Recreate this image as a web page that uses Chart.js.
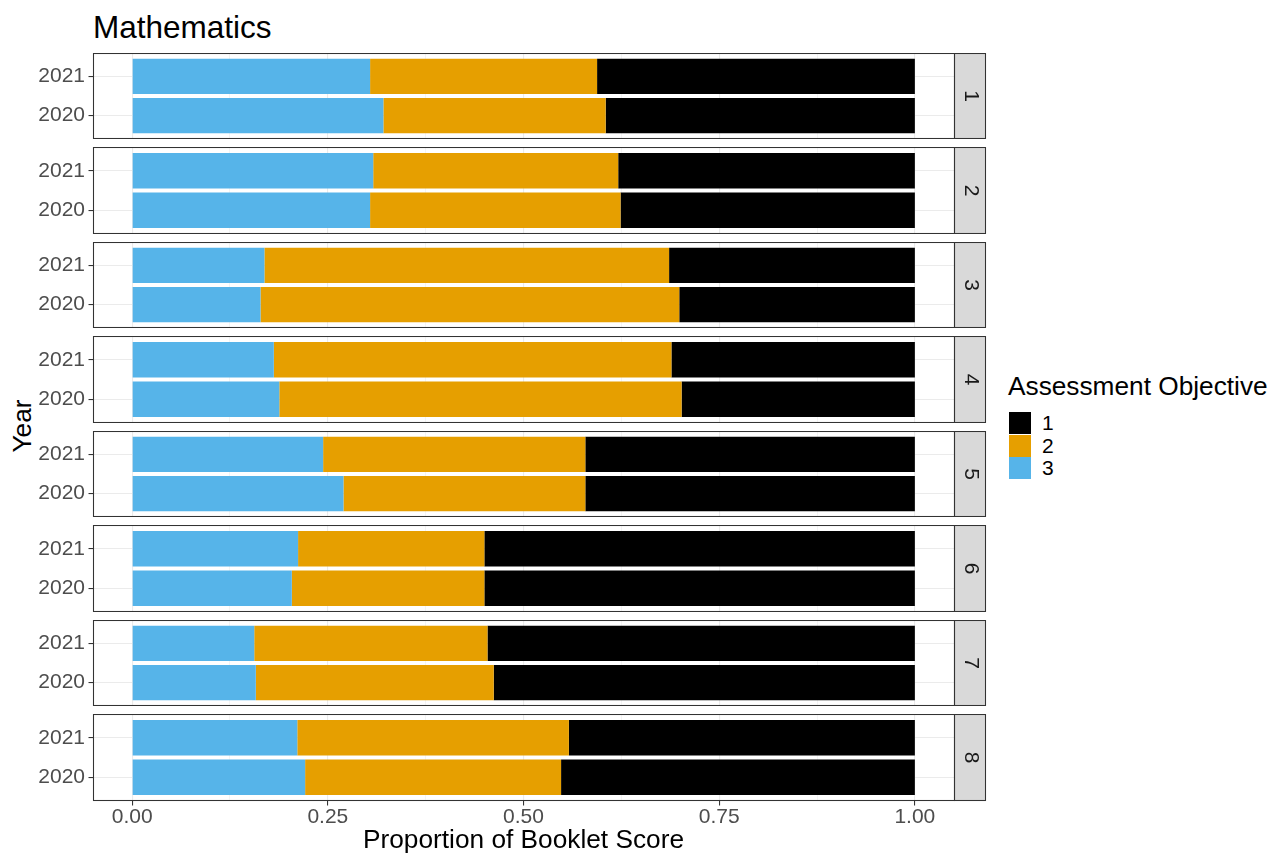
<!DOCTYPE html>
<html>
<head>
<meta charset="utf-8">
<script src="https://cdn.jsdelivr.net/npm/chart.js@4.4.1/dist/chart.umd.min.js"></script>
<style>
  html, body { margin: 0; padding: 0; background: #ffffff; }
  #page { position: relative; width: 1288px; height: 856px; overflow: hidden;
          font-family: "Liberation Sans", Arial, Helvetica, sans-serif; color: #000; }
  #page canvas { position: absolute; left: 0; }
  .plot-title { position: absolute; left: 93px; top: 12px; font-size: 31.5px; line-height: 31.5px; white-space: nowrap; }
  .y-title { position: absolute; left: 22px; top: 426px; width: 120px; height: 32px; margin-left: -60px; margin-top: -16px;
             line-height: 32px; text-align: center; font-size: 26.25px; transform: rotate(-90deg); white-space: nowrap; }
  .legend-title { position: absolute; left: 1008px; top: 373px; font-size: 26.25px; line-height: 26.25px; white-space: nowrap; }
  .legend-key { position: absolute; left: 1009px; width: 22px; height: 22px; }
  .legend-label { position: absolute; left: 1042px; height: 22px; line-height: 22px; font-size: 21px; color: #000; }
</style>
</head>
<body>
<div id="page">
  <div class="plot-title">Mathematics</div>
  <div class="y-title">Year</div>
  <div class="legend-title">Assessment Objective</div>
</div>
<script>
// Booklet facets, years within each facet (top to bottom) and objectives
const booklets = ['1', '2', '3', '4', '5', '6', '7', '8'];
const years = ['2021', '2020'];
const objectives = ['1', '2', '3'];
const objectiveColours = ['#000000', '#E69F00', '#56B4E9'];

// Proportion of booklet score per objective, one value per booklet
const ao1_2021 = [0.406, 0.379, 0.314, 0.311, 0.421, 0.550, 0.546, 0.442];
const ao1_2020 = [0.395, 0.376, 0.301, 0.298, 0.421, 0.550, 0.538, 0.452];
const ao2_2021 = [0.290, 0.313, 0.517, 0.508, 0.335, 0.238, 0.298, 0.347];
const ao2_2020 = [0.284, 0.320, 0.535, 0.514, 0.309, 0.246, 0.304, 0.327];
const ao3_2021 = [0.304, 0.308, 0.169, 0.181, 0.244, 0.212, 0.156, 0.211];
const ao3_2020 = [0.321, 0.304, 0.164, 0.188, 0.270, 0.204, 0.158, 0.221];

// Axis ticks
const xMajorTicks = [0, 0.25, 0.5, 0.75, 1];
const xMajorLabels = ['0.00', '0.25', '0.50', '0.75', '1.00'];
const xMinorTicks = [0.125, 0.375, 0.625, 0.875];

const FONT = '"Liberation Sans", Arial, Helvetica, sans-serif';
const page = document.getElementById('page');

// legend
objectives.forEach((o, i) => {
  const top = 412 + i * 22.6;
  const key = document.createElement('div');
  key.className = 'legend-key';
  key.style.top = top + 'px';
  key.style.background = objectiveColours[i];
  page.appendChild(key);
  const lab = document.createElement('div');
  lab.className = 'legend-label';
  lab.style.top = top + 'px';
  lab.textContent = o;
  page.appendChild(lab);
});

// year slots on the discrete axis (2021 above 2020)
const yearSlot = { '2021': 2, '2020': 1 };
const slotYear = { 2: '2021', 1: '2020' };

const allXTicks = xMajorTicks.concat(xMinorTicks).sort((a, b) => a - b);
const isMajor = v => xMajorTicks.some(m => Math.abs(m - v) < 1e-9);

// frame around each facet plus the grey strip with its label
const facetFrame = {
  id: 'facetFrame',
  afterDatasetsDraw(chart, args, opts) {
    const { ctx, chartArea: a } = chart;
    const h = a.bottom - a.top;
    ctx.save();
    ctx.fillStyle = '#D9D9D9';
    ctx.fillRect(a.right, a.top, 32, h);
    ctx.lineWidth = 1.07;
    ctx.strokeStyle = '#333333';
    ctx.strokeRect(a.left + 0.5, a.top + 0.5, a.right - a.left, h - 1);
    ctx.strokeRect(a.right + 0.5, a.top + 0.5, 31, h - 1);
    ctx.translate(a.right + 16.5, a.top + h / 2);
    ctx.rotate(Math.PI / 2);
    ctx.fillStyle = '#1A1A1A';
    ctx.font = '21px ' + FONT;
    ctx.textAlign = 'center';
    ctx.textBaseline = 'middle';
    ctx.fillText(opts.label, 0, 0);
    ctx.restore();
  }
};

const CANVAS_W = 1000;
const PANEL_RIGHT = 954;

booklets.forEach((b, i) => {
  const isLast = i === booklets.length - 1;
  const top = Math.round(52.7 + 94.5 * i);
  const bottom = Math.round(52.7 + 94.5 * i + 86.3);
  const axisH = isLast ? 56 : 0;
  const canvas = document.createElement('canvas');
  canvas.width = CANVAS_W;
  canvas.height = bottom - top + axisH;
  canvas.style.top = top + 'px';
  canvas.style.width = CANVAS_W + 'px';
  canvas.style.height = canvas.height + 'px';
  page.appendChild(canvas);

  const series = [
    { label: objectives[2], colour: objectiveColours[2], v2021: ao3_2021[i], v2020: ao3_2020[i] },
    { label: objectives[1], colour: objectiveColours[1], v2021: ao2_2021[i], v2020: ao2_2020[i] },
    { label: objectives[0], colour: objectiveColours[0], v2021: ao1_2021[i], v2020: ao1_2020[i] }
  ];

  new Chart(canvas, {
    type: 'bar',
    data: {
      datasets: series.map(s => ({
        label: s.label,
        backgroundColor: s.colour,
        borderWidth: 0,
        data: [
          { x: s.v2021, y: yearSlot[years[0]] },
          { x: s.v2020, y: yearSlot[years[1]] }
        ]
      }))
    },
    options: {
      indexAxis: 'y',
      responsive: false,
      animation: false,
      events: [],
      layout: { autoPadding: false, padding: { left: 0, right: CANVAS_W - PANEL_RIGHT, top: 0, bottom: 0 } },
      datasets: { bar: { categoryPercentage: 1, barPercentage: 0.9 } },
      plugins: {
        legend: { display: false },
        tooltip: { enabled: false },
        facetFrame: { label: b }
      },
      scales: {
        x: {
          type: 'linear',
          stacked: true,
          min: -0.05,
          max: 1.05,
          offset: false,
          afterBuildTicks: s => { s.ticks = allXTicks.map(v => ({ value: v })); },
          afterFit: s => { s.height = axisH; s.paddingLeft = 0; s.paddingRight = 0; },
          border: { display: false },
          grid: {
            offset: false,
            color: '#EBEBEB',
            lineWidth: ctx => (ctx.tick && isMajor(ctx.tick.value)) ? 1.1 : 0.55,
            drawTicks: isLast,
            tickLength: 4.5,
            tickWidth: 1.07,
            tickColor: ctx => (ctx.tick && isMajor(ctx.tick.value)) ? '#333333' : 'rgba(0,0,0,0)'
          },
          ticks: {
            display: isLast,
            autoSkip: false,
            maxRotation: 0,
            padding: -1,
            color: '#4D4D4D',
            font: { size: 21, family: FONT },
            callback: v => {
              const k = xMajorTicks.findIndex(m => Math.abs(m - v) < 1e-9);
              return k >= 0 ? xMajorLabels[k] : '';
            }
          },
          title: {
            display: isLast,
            text: 'Proportion of Booklet Score',
            color: '#000000',
            font: { size: 26.25, family: FONT },
            padding: { top: 0, bottom: 0 }
          }
        },
        y: {
          type: 'linear',
          stacked: true,
          min: 0.4,
          max: 2.6,
          offset: false,
          afterBuildTicks: s => { s.ticks = [{ value: 1 }, { value: 2 }]; },
          afterFit: s => { s.width = 93; s.paddingTop = 0; s.paddingBottom = 0; },
          border: { display: false },
          grid: {
            offset: false,
            color: '#EBEBEB',
            lineWidth: 1.1,
            tickLength: 4.5,
            tickWidth: 1.07,
            tickColor: '#333333'
          },
          ticks: {
            autoSkip: false,
            padding: 3.5,
            color: '#4D4D4D',
            font: { size: 21, family: FONT },
            callback: v => slotYear[v] || ''
          }
        }
      }
    },
    plugins: [facetFrame]
  });
});
</script>
</body>
</html>
